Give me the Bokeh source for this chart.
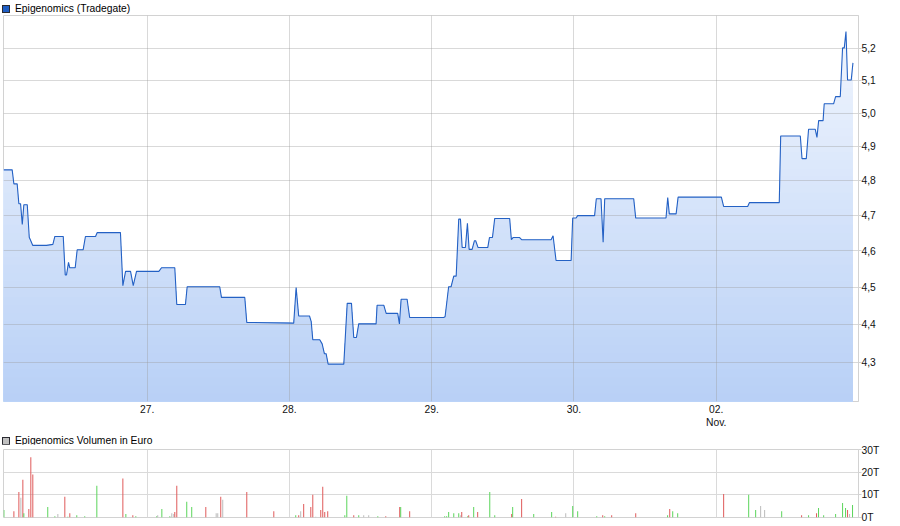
from bokeh.plotting import figure
from bokeh.layouts import column
from bokeh.models import Range1d, FixedTicker, ColumnDataSource, Div
from bokeh.embed import file_html
from bokeh.resources import INLINE
import numpy as np

# ---------------- data ----------------
title_price = "Epigenomics (Tradegate)"
title_volume = "Epigenomics Volumen in Euro"

day_ticks = [1, 2, 3, 4, 5]
day_labels = ["27.", "28.", "29.", "30.", "02.\nNov."]

price_ticks = [4.3, 4.4, 4.5, 4.6, 4.7, 4.8, 4.9, 5.0, 5.1, 5.2]
price_tick_labels = ["4,3", "4,4", "4,5", "4,6", "4,7", "4,8", "4,9", "5,0", "5,1", "5,2"]

vol_ticks = [0, 10000, 20000, 30000]
vol_tick_labels = ["0T", "10T", "20T", "30T"]

# time in trading days since start of 26 Oct (27.=1, 28.=2, 29.=3, 30.=4, 02.Nov=5)
price_t = [-0.010, 0.051, 0.063, 0.086, 0.098, 0.110, 0.122, 0.133, 0.157, 0.171,
           0.196, 0.292, 0.337, 0.351, 0.410, 0.424, 0.433, 0.447, 0.456, 0.494,
           0.508, 0.550, 0.566, 0.637, 0.649, 0.812, 0.829, 0.848, 0.883, 0.902, 0.925,
           1.082, 1.101, 1.194, 1.208, 1.269, 1.281, 1.510, 1.522, 1.686, 1.700,
           2.030, 2.047, 2.065, 2.141, 2.153, 2.164, 2.213, 2.230, 2.246, 2.258,
           2.272, 2.382, 2.406, 2.436, 2.452, 2.471, 2.487, 2.609, 2.616, 2.663,
           2.680, 2.761, 2.773, 2.785, 2.827, 2.845,
           3.084, 3.094, 3.119, 3.136, 3.155, 3.172, 3.190, 3.202, 3.214, 3.237,
           3.251, 3.263, 3.284, 3.300, 3.309, 3.326, 3.394, 3.406, 3.427, 3.443,
           3.548, 3.560, 3.572, 3.618, 3.632, 3.839, 3.853, 3.874, 3.980, 3.991,
           4.015, 4.026,
           4.145, 4.157, 4.190, 4.205, 4.216, 4.420, 4.434, 4.647, 4.659, 4.670,
           4.718, 4.732,
           5.036, 5.052, 5.221, 5.233, 5.443, 5.453, 5.591, 5.603, 5.633, 5.649,
           5.696, 5.708, 5.720, 5.751, 5.759, 5.825, 5.839, 5.872, 5.888, 5.900,
           5.912, 5.923, 5.949, 5.961]
price_v = [4.831, 4.831, 4.790, 4.790, 4.733, 4.733, 4.674, 4.730, 4.730, 4.638,
           4.615, 4.615, 4.618, 4.640, 4.640, 4.533, 4.533, 4.568, 4.553, 4.553,
           4.603, 4.603, 4.640, 4.640, 4.651, 4.651, 4.504, 4.543, 4.543, 4.504, 4.543,
           4.543, 4.553, 4.553, 4.453, 4.453, 4.501, 4.501, 4.472, 4.472, 4.405,
           4.403, 4.499, 4.422, 4.422, 4.407, 4.359, 4.359, 4.348, 4.322, 4.322,
           4.295, 4.295, 4.456, 4.456, 4.365, 4.365, 4.401, 4.401, 4.451, 4.451,
           4.429, 4.429, 4.401, 4.467, 4.467, 4.418,
           4.418, 4.420, 4.501, 4.501, 4.530, 4.530, 4.689, 4.689, 4.609, 4.609,
           4.677, 4.604, 4.604, 4.628, 4.628, 4.609, 4.609, 4.637, 4.637, 4.691,
           4.691, 4.631, 4.637, 4.637, 4.631, 4.631, 4.642, 4.573, 4.573, 4.692,
           4.692, 4.699,
           4.699, 4.747, 4.747, 4.624, 4.747, 4.747, 4.692, 4.692, 4.751, 4.704,
           4.704, 4.752,
           4.752, 4.725, 4.725, 4.736, 4.736, 4.931, 4.931, 4.864, 4.864, 4.951,
           4.951, 4.927, 4.977, 4.977, 5.028, 5.028, 5.050, 5.050, 5.201, 5.201,
           5.253, 5.101, 5.101, 5.154]

# volume (thousand EUR), direction: g = up, r = down, n = unchanged
vol_t = [-0.007, 0.063, 0.098, 0.112, 0.126, 0.133, 0.168, 0.182, 0.196, 0.301,
         0.351, 0.372, 0.421, 0.442, 0.456, 0.505, 0.561, 0.576, 0.646, 0.829,
         0.850, 0.899, 0.920,
         1.067, 1.074, 1.103, 1.159, 1.173, 1.187, 1.194, 1.208, 1.278, 1.313,
         1.412, 1.485, 1.496, 1.517, 1.531, 1.700, 1.890,
         2.044, 2.065, 2.079, 2.100, 2.150, 2.164, 2.185, 2.220, 2.234, 2.248,
         2.269, 2.389, 2.403, 2.452, 2.487, 2.522, 2.557, 2.621, 2.677, 2.775,
         2.782, 2.845,
         3.091, 3.105, 3.119, 3.155, 3.190, 3.204, 3.211, 3.253, 3.260, 3.295,
         3.323, 3.408, 3.443, 3.562, 3.569, 3.632, 3.717, 3.843, 3.871, 3.942,
         3.991, 4.026,
         4.160, 4.202, 4.216, 4.265, 4.434, 4.658, 4.673, 4.694, 4.729,
         5.052, 5.228, 5.277, 5.312, 5.340, 5.460, 5.600, 5.649, 5.705, 5.719,
         5.755, 5.839, 5.888, 5.909, 5.923, 5.937, 5.958]
vol_k = [3.3, 2.8, 11.3, 8.7, 16.7, 1.9, 3.7, 26.6, 19.0, 4.6,
         0.6, 1.5, 9.1, 0.3, 1.9, 1.0, 0.6, 0.15, 14.0, 17.2,
         1.5, 1.0, 0.6,
         0.6, 1.0, 3.7, 0.6, 1.9, 1.5, 2.4, 14.0, 6.9, 4.6,
         4.6, 1.9, 1.9, 9.1, 7.8, 11.3, 2.8,
         1.0, 1.0, 2.8, 6.0, 4.6, 10.0, 0.3, 3.3, 13.6, 2.4,
         2.8, 1.0, 9.6, 1.0, 1.0, 1.0, 1.0, 0.6, 0.6, 4.6,
         4.6, 2.8,
         0.6, 0.6, 2.4, 1.9, 1.9, 1.0, 2.4, 0.6, 1.0, 4.6,
         2.4, 11.3, 1.0, 1.5, 4.6, 8.2, 1.5, 2.4, 0.3, 1.9,
         5.1, 2.8,
         0.6, 1.0, 0.6, 1.0, 1.9, 1.0, 3.7, 2.8, 1.9,
         10.4, 10.0, 3.3, 5.1, 3.3, 2.8, 1.0, 1.0, 1.9, 4.2,
         1.0, 1.5, 6.4, 4.2, 3.3, 1.5, 5.5]
vol_dir = ["g", "r", "r", "n", "r", "g", "r", "r", "r", "g",
           "g", "n", "r", "g", "r", "g", "g", "n", "g", "r",
           "g", "r", "g",
           "g", "n", "g", "g", "n", "n", "r", "r", "g", "g",
           "r", "n", "n", "r", "n", "r", "r",
           "g", "r", "n", "r", "r", "r", "n", "r", "r", "r",
           "r", "g", "g", "r", "g", "n", "n", "g", "r", "r",
           "g", "r",
           "g", "g", "g", "g", "g", "n", "r", "g", "r", "g",
           "r", "g", "g", "r", "g", "r", "g", "g", "r", "n",
           "g", "g",
           "g", "r", "g", "r", "r", "g", "r", "g", "g",
           "r", "g", "g", "n", "n", "g", "r", "g", "r", "g",
           "g", "g", "g", "g", "r", "n", "g"]

# ---------------- style ----------------
FONT = "Liberation Sans"
FS = "10.3px"
LINE_BLUE = "#2461c4"
GRID = "#dadada"
X0, X1 = -0.01, 6.0
Y0, Y1 = 4.199, 5.304
TOP_RGB = np.array([243, 247, 254])
BOT_RGB = np.array([184, 208, 246])
dir_colors = {"g": "#5fd65f", "r": "#e05e5e", "n": "#bdbdbd"}
FH1, FH2 = 386, 68
W = 884


def title_div(text, square_color, height, pad_top):
    html = ('<div style="padding:%dpx 0 0 2px;white-space:nowrap;font-family:\'%s\';'
            'font-size:%s;line-height:11px;color:#000;">'
            '<span style="display:inline-block;box-sizing:border-box;width:8px;height:8px;'
            'background:%s;border:1px solid #2a2a30;margin-right:5px;vertical-align:-1px;">'
            '</span>%s</div>'
            % (pad_top, FONT, FS, square_color, text))
    return Div(text=html, width=W, height=height, margin=0)


# ---------------- price chart ----------------
p = figure(frame_width=855, frame_height=FH1,
           x_range=Range1d(X0, X1), y_range=Range1d(Y0, Y1),
           y_axis_type="log", y_axis_location="right",
           min_border_left=3, min_border_right=26, min_border_top=0, min_border_bottom=31,
           output_backend="svg", toolbar_location=None,
           background_fill_color="white", border_fill_color="white",
           outline_line_color="#d2d2d2")

pt = np.array(price_t)
pv = np.array(price_v)

# vertical gradient under the line (bands, top colour first)
n_bands = 48
edges = np.exp(np.linspace(np.log(Y0), np.log(Y1), n_bands + 1))
for k in range(n_bands, 0, -1):
    f = (k - 0.5) / n_bands
    rgb = BOT_RGB + (TOP_RGB - BOT_RGB) * f
    col = "#%02x%02x%02x" % tuple(int(round(c)) for c in rgb)
    p.varea(x=pt, y1=np.full_like(pv, Y0), y2=np.minimum(pv, edges[k]),
            fill_color=col, level="image")

p.line(pt, pv, line_color=LINE_BLUE, line_width=1.1)

p.xaxis.ticker = FixedTicker(ticks=day_ticks)
p.xaxis.major_label_overrides = dict(zip(day_ticks, day_labels))
p.xaxis.major_tick_line_color = None
p.xaxis.major_tick_in = 0
p.xaxis.major_tick_out = 0
p.xaxis.minor_tick_line_color = None
p.xaxis.axis_line_color = None
p.xaxis.major_label_standoff = 2
p.xgrid.ticker = FixedTicker(ticks=day_ticks)

p.yaxis.ticker = FixedTicker(ticks=price_ticks)
p.yaxis.major_label_overrides = dict(zip(price_ticks, price_tick_labels))
p.yaxis.minor_tick_line_color = None
p.yaxis.major_tick_in = 0
p.yaxis.major_tick_out = 3
p.yaxis.major_tick_line_color = "#d2d2d2"
p.yaxis.axis_line_color = "#d2d2d2"
p.yaxis.major_label_standoff = 0
p.ygrid.ticker = FixedTicker(ticks=price_ticks)

for ax in (p.xaxis, p.yaxis):
    ax.major_label_text_font = FONT
    ax.major_label_text_font_size = FS
    ax.major_label_text_color = "#111111"

for g in (p.xgrid, p.ygrid):
    g.grid_line_color = "#9a9a9a"
    g.grid_line_alpha = 0.38
    g.grid_line_width = 1

# ---------------- volume chart ----------------
p2 = figure(frame_width=855, frame_height=FH2,
            x_range=p.x_range, y_range=Range1d(0, 30000),
            y_axis_location="right",
            min_border_left=3, min_border_right=26, min_border_top=5, min_border_bottom=9,
            output_backend="svg", toolbar_location=None,
            background_fill_color="white", border_fill_color="white",
            outline_line_color="#d2d2d2")

vsrc = ColumnDataSource(dict(t=vol_t, v=[k * 1000 for k in vol_k],
                             c=[dir_colors[d] for d in vol_dir]))
p2.vbar(x="t", top="v", width=0.0072, bottom=0, fill_color="c", line_color=None, source=vsrc)

p2.xaxis.visible = False
p2.xgrid.ticker = FixedTicker(ticks=day_ticks)
p2.yaxis.ticker = FixedTicker(ticks=vol_ticks)
p2.yaxis.major_label_overrides = dict(zip(vol_ticks, vol_tick_labels))
p2.yaxis.minor_tick_line_color = None
p2.yaxis.major_tick_in = 0
p2.yaxis.major_tick_out = 3
p2.yaxis.major_tick_line_color = "#d2d2d2"
p2.yaxis.axis_line_color = "#d2d2d2"
p2.yaxis.major_label_standoff = 0
p2.yaxis.major_label_text_font = FONT
p2.yaxis.major_label_text_font_size = FS
p2.yaxis.major_label_text_color = "#111111"
p2.ygrid.ticker = FixedTicker(ticks=vol_ticks)
for g in (p2.xgrid, p2.ygrid):
    g.grid_line_color = GRID
    g.grid_line_width = 1

d1 = title_div(title_price, "#1f5ec4", 15, 1)
d2 = title_div(title_volume, "#c0c0c0", 12, 3)

layout = column(d1, p, d2, p2, spacing=0)
open("out.html", "w").write(file_html(layout, INLINE))
